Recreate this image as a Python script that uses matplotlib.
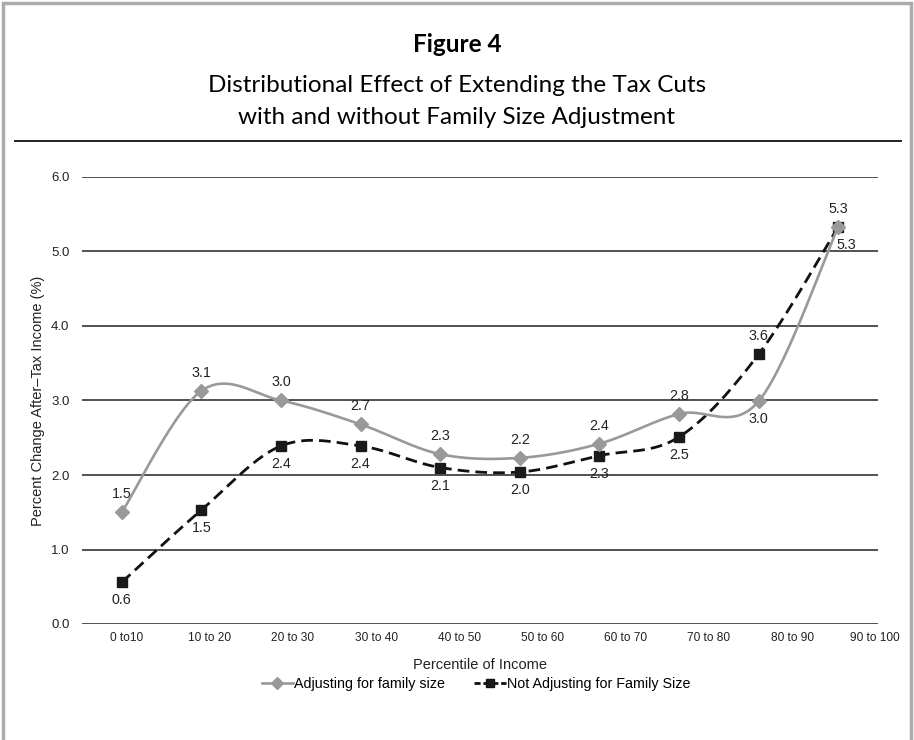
import numpy as np
import matplotlib
matplotlib.use("Agg")
from matplotlib import pyplot as plt
from matplotlib.patches import Rectangle
from matplotlib.lines import Line2D

# percentile groups and percent change in after-tax income
groups = ["0 to10", "10 to 20", "20 to 30", "30 to 40", "40 to 50",
          "50 to 60", "60 to 70", "70 to 80", "80 to 90", "90 to 100"]
adjusted = [1.50, 3.13, 3.00, 2.68, 2.28, 2.23, 2.42, 2.82, 2.99, 5.33]
not_adjusted = [0.56, 1.53, 2.39, 2.39, 2.10, 2.04, 2.26, 2.51, 3.62, 5.33]

# which side of the point each value label goes on (+1 above, -1 below)
adj_side = [1, 1, 1, 1, 1, 1, 1, 1, -1, 1]
nadj_side = [-1, -1, -1, -1, -1, -1, -1, -1, 1, -1]

title_font = ["Lato", "DejaVu Sans"]
body_font = ["Liberation Sans", "DejaVu Sans"]


def smooth(x, y, n=40):
    # Catmull-Rom style bezier through the points (like a spreadsheet "smoothed line")
    pts = np.column_stack([x, y]).astype(float)
    P = np.vstack([pts[0], pts, pts[-1]])
    t = np.linspace(0, 1, n)[:, None]
    out = []
    for i in range(len(pts) - 1):
        p0, p1, p2, p3 = P[i], P[i + 1], P[i + 2], P[i + 3]
        c1 = p1 + (p2 - p0) / 6
        c2 = p2 - (p3 - p1) / 6
        seg = (1 - t) ** 3 * p1 + 3 * (1 - t) ** 2 * t * c1 + 3 * (1 - t) * t ** 2 * c2 + t ** 3 * p2
        out.append(seg if i == 0 else seg[1:])
    out = np.vstack(out)
    return out[:, 0], out[:, 1]


W, H = 914, 740
fig = plt.figure(figsize=(W / 100, H / 100), dpi=100)

# outer frame
fig.patches.append(Rectangle((3 / W, -0.02), (W - 6) / W, 1.02 - 3 / H,
                             transform=fig.transFigure, fill=False,
                             edgecolor="#ababab", linewidth=2.5))

# titles and rule
fig.text(457 / W, 1 - 44 / H, "Figure 4", ha="center", va="center",
         fontsize=17.5, fontweight="bold", family=title_font)
fig.text(457 / W, 1 - 86 / H, "Distributional Effect of Extending the Tax Cuts",
         ha="center", va="center", fontsize=17.5, family=title_font)
fig.text(457 / W, 1 - 118 / H, "with and without Family Size Adjustment",
         ha="center", va="center", fontsize=17.5, family=title_font)
fig.add_artist(Line2D([15 / W, 901 / W], [1 - 141 / H, 1 - 141 / H],
                      transform=fig.transFigure, color="#222222", linewidth=1.4))

ax = fig.add_axes([82 / W, (H - 624) / H, (878 - 82) / W, (624 - 177) / H])
x = np.arange(len(groups))
ax.set_xlim(-0.5, len(groups) - 0.5)
ax.set_ylim(0, 6)

for s in ax.spines.values():
    s.set_visible(False)
for yv in range(0, 7):
    ax.axhline(yv, color="#222222", linewidth=1.1, zorder=1)

ax.set_yticks(range(0, 7))
ax.set_yticklabels([f"{v:.1f}" for v in range(0, 7)], fontsize=9.5,
                   family=body_font, color="#222222")
ax.tick_params(axis="y", length=0, pad=9)
ax.set_xticks(0.06 + x * 1.045)
ax.set_xticklabels(groups, fontsize=8.6, family=body_font, color="#222222")
ax.tick_params(axis="x", length=0, pad=6)

ax.set_ylabel("Percent Change After\u2013Tax Income (%)", fontsize=10.5,
              family=body_font, color="#222222", labelpad=4)
ax.set_xlabel("Percentile of Income", fontsize=10.5, family=body_font,
              color="#222222", labelpad=10)

gray = "#999999"
sx, sy = smooth(x, not_adjusted)
ax.plot(sx, sy, color="#111111", linewidth=2.0, dashes=(4.2, 2.2), zorder=3)
ax.plot(x, not_adjusted, linestyle="none", marker="s", markersize=7,
        color="#1a1a1a", zorder=4)
sx, sy = smooth(x, adjusted)
ax.plot(sx, sy, color=gray, linewidth=1.9, zorder=5)
ax.plot(x, adjusted, linestyle="none", marker="D", markersize=7,
        color=gray, zorder=6)

for xi, v, side in zip(x, adjusted, adj_side):
    ax.annotate(f"{v:.1f}", (xi, v), xytext=(0, 13 * side), textcoords="offset points",
                ha="center", va="center", fontsize=10.3, family=body_font, color="#222222")
for xi, v, side in zip(x, not_adjusted, nadj_side):
    dx = 6 if xi == len(groups) - 1 else 0
    ax.annotate(f"{v:.1f}", (xi, v), xytext=(dx, 13 * side), textcoords="offset points",
                ha="center", va="center", fontsize=10.3, family=body_font, color="#222222")

handles = [Line2D([], [], color=gray, linewidth=1.9, marker="D", markersize=6),
           Line2D([], [], color="#111111", linewidth=2.0, dashes=(2.2, 1.0),
                  marker="s", markersize=6, markerfacecolor="#1a1a1a")]
fig.legend(handles, ["Adjusting for family size", "Not Adjusting for Family Size"],
           loc="center", bbox_to_anchor=(476 / W, 1 - 684 / H), ncol=2,
           frameon=False, handlelength=2.2, handletextpad=0.1, columnspacing=2.0,
           prop={"family": body_font, "size": 10.3})

fig.savefig("out.png", dpi=100)
